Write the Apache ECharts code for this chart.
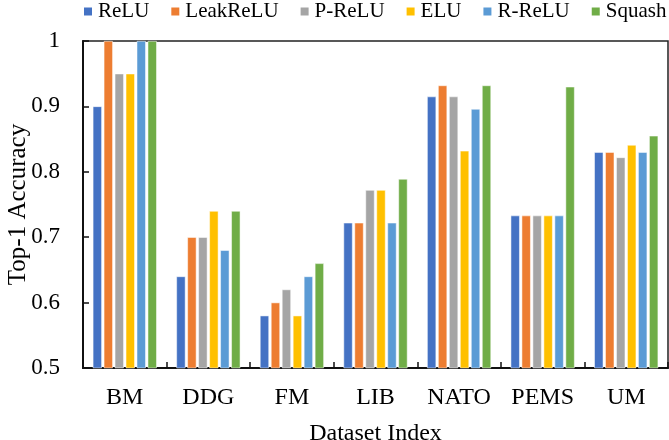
<!DOCTYPE html>
<html>
<head>
<meta charset="utf-8">
<script src="https://cdn.jsdelivr.net/npm/echarts@6/dist/echarts.min.js"></script>
<style>
  html, body { margin: 0; padding: 0; background: #fff; }
  #chart { width: 669px; height: 440px; }
</style>
</head>
<body>
<div id="chart"></div>
<script>
// Datasets on the x axis
const categories = ['BM', 'DDG', 'FM', 'LIB', 'NATO', 'PEMS', 'UM'];

// Top-1 accuracy per activation function
const relu      = [0.90, 0.64, 0.58, 0.722, 0.915, 0.733, 0.830];
const leakRelu  = [1.00, 0.70, 0.60, 0.722, 0.932, 0.733, 0.830];
const pRelu     = [0.95, 0.70, 0.62, 0.772, 0.915, 0.733, 0.822];
const elu       = [0.95, 0.74, 0.58, 0.772, 0.832, 0.733, 0.841];
const rRelu     = [1.00, 0.68, 0.64, 0.722, 0.896, 0.733, 0.830];
const squash    = [1.00, 0.74, 0.66, 0.789, 0.932, 0.930, 0.855];

const seriesNames = ['ReLU', 'LeakReLU', 'P-ReLU', 'ELU', 'R-ReLU', 'Squash'];
const seriesData = [relu, leakRelu, pRelu, elu, rRelu, squash];
const colors = ['#4472C4', '#ED7D31', '#A5A5A5', '#FFC000', '#5B9BD5', '#70AD47'];

const FONT = "'Liberation Serif', 'Times New Roman', serif";

const chart = echarts.init(document.getElementById('chart'), null, { renderer: 'canvas' });

chart.setOption({
  animation: false,
  backgroundColor: '#fff',
  color: colors,
  legend: {
    data: seriesNames,
    left: 82,
    top: 1,
    padding: 0,
    icon: 'rect',
    itemWidth: 10,
    itemHeight: 10,
    itemGap: 20,
    textStyle: { fontFamily: FONT, fontSize: 21, color: '#000' }
  },
  grid: {
    left: 83,
    right: 1,
    top: 41,
    bottom: 72,
    outerBoundsMode: 'none',
    containLabel: false,
    show: true,
    borderColor: '#222',
    borderWidth: 1.5,
    backgroundColor: 'transparent'
  },
  xAxis: {
    type: 'category',
    data: categories,
    name: 'Dataset Index',
    nameLocation: 'middle',
    nameGap: 54,
    nameMoveOverlap: false,
    nameTextStyle: { fontFamily: FONT, fontSize: 24, color: '#000' },
    axisLine: { lineStyle: { color: '#111', width: 2 } },
    axisTick: { show: true, inside: true, length: 6, alignWithLabel: false, lineStyle: { color: '#111', width: 1.5 } },
    axisLabel: { fontFamily: FONT, fontSize: 24, color: '#000', margin: 18 }
  },
  yAxis: {
    type: 'value',
    min: 0.5,
    max: 1,
    interval: 0.1,
    name: 'Top-1 Accuracy',
    nameLocation: 'middle',
    nameGap: 52,
    nameMoveOverlap: false,
    nameTextStyle: { fontFamily: FONT, fontSize: 25, color: '#000' },
    axisLine: { show: true, lineStyle: { color: '#111', width: 2 } },
    axisTick: { show: true, inside: true, length: 6, lineStyle: { color: '#111', width: 1.5 } },
    splitLine: { show: false },
    axisLabel: {
      fontFamily: FONT, fontSize: 23, color: '#000', margin: 23,
      formatter: v => String(parseFloat(v.toFixed(1)))
    }
  },
  series: seriesNames.map((name, i) => ({
    name,
    type: 'bar',
    data: seriesData[i],
    barWidth: 9,
    barGap: '22%',
    itemStyle: { color: colors[i], borderColor: '#fff', borderWidth: 0.5 }
  }))
});
</script>
</body>
</html>
